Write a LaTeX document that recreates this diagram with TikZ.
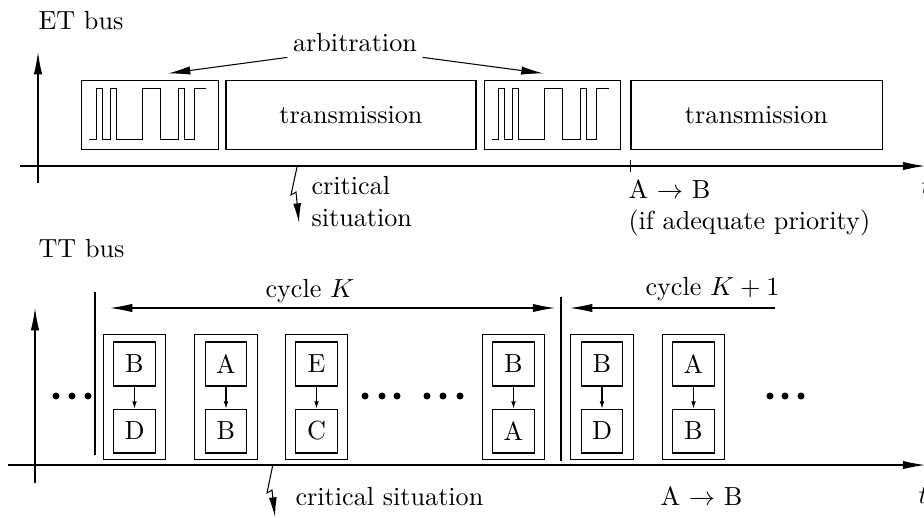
\documentclass[tikz,border=0pt]{standalone}
\usetikzlibrary{arrows.meta, positioning, calc}

\newcommand{\arbsignal}[1]{%
  \draw[shift={(#1.north west)}] (8,59) -- (15,59) -- (15,8) -- (21,8) -- (21,59)
    -- (29,59) -- (29,8) -- (35,8) -- (35,59) -- (61,59) -- (61,8) -- (79,8) -- (79,59)
    -- (97,59) -- (97,8) -- (103,8) -- (103,59) -- (113,59) -- (113,8) -- (125,8);}

\begin{document}
\begin{tikzpicture}[
    x=0.382pt, y=-0.382pt,
    >={Latex[length=8.5pt,width=3.2pt]},
    frame/.style={draw, minimum height=26pt, inner sep=0pt},
    slot/.style={draw, minimum width=24pt, minimum height=47.4pt},
    msg/.style={draw, minimum width=16pt, minimum height=16.8pt, inner sep=0pt},
    msgarrow/.style={-{Latex[length=2.7pt,width=1.8pt]}},
    boltarrow/.style={-{Latex[length=7.5pt,width=3pt]}},
    label/.style={inner sep=0pt, anchor=base west}
]
\useasboundingbox (0,0) rectangle (924,517);

% ET bus
\node[label] (etlabel) at (38,29) {ET bus};
\coordinate (etO) at (38,183);
\coordinate (etY) at (38,52);
\coordinate (etL) at (20,166);
\coordinate (etX) at (925,166);
\draw[->] (etO) -- (etY);
\draw[->] (etL) -- (etX);

\node[frame, minimum width=52pt] (arbA) at (150,115) {};
\node[frame, minimum width=95.5pt] (transA) at (351,115) {transmission};
\node[frame, minimum width=52pt] (arbB) at (552.5,115) {};
\node[frame, minimum width=95.9pt] (transB) at (756.5,115) {transmission};
\arbsignal{arbA}
\arbsignal{arbB}

\node[inner sep=2pt] (arb) at (355,42.4) {arbitration};
\draw[->] (arb.south west) -- ($(arbA.north)+(18,-7)$);
\draw[->] (arb.south east) -- ($(arbB.north)+(-9,-7)$);

\draw (transB.west |- etX) ++(0,-6) -- ++(0,12);
\node[label, align=left, anchor=north west] (etab) at (628,179) {A $\rightarrow$ B\\(if adequate priority)};

\coordinate (etbolt) at (297,167);
\draw[boltarrow] (etbolt) -- ++(-6,28) -- ++(5,-3) -- ++(3,31);
\node[label, align=left, anchor=north west] (etcrit) at (311,176) {critical\\situation};
\node[label] (ett) at (921,194) {$t$};

% TT bus
\node[label] (ttlabel) at (38,257) {TT bus};
\coordinate (ttO) at (35,483);
\coordinate (ttY) at (35,308);
\coordinate (ttL) at (8,465);
\coordinate (ttX) at (925,465);
\draw[->] (ttO) -- (ttY);
\draw[->] (ttL) -- (ttX);

\coordinate (sepA1) at (95,292);
\coordinate (sepA2) at (95,455);
\coordinate (sepB1) at (561,297);
\coordinate (sepB2) at (561,461);
\draw (sepA1) -- (sepA2);
\draw (sepB1) -- (sepB2);

\coordinate (cycA1) at (110,308);
\coordinate (cycA2) at (555,308);
\coordinate (cycB1) at (570,308);
\coordinate (cycB2) at (775,308);
\draw[<->] (cycA1) -- (cycA2);
\draw[<-] (cycB1) -- (cycB2);
\node[label] (cycK) at (265,297) {cycle $K$};
\node[label] (cycK1) at (645,295) {cycle $K+1$};

\foreach \i/\x/\a/\b in {1/134.5/B/D, 2/226/A/B, 3/316.5/E/C, 4/513.5/B/A, 5/602/B/D, 6/693.5/A/B} {
    \node[slot] (slot\i) at (\x,397) {};
    \node[msg] (top\i) at (\x,364) {\a};
    \node[msg] (bot\i) at (\x,431) {\b};
    \draw[msgarrow] (top\i) -- (bot\i);
}

\foreach \x in {56,72,88, 365,382,397, 427,443,460, 770,785,801}
    \fill (\x,396) circle (3.5);

\coordinate (ttbolt) at (273,464);
\draw[boltarrow] (ttbolt) -- ++(-6,29) -- ++(5,-3) -- ++(3,27);
\node[label] (ttcrit) at (295,505) {critical situation};
\node[label] (ttab) at (660,505) {A $\rightarrow$ B};
\node[label] (ttt) at (918,503) {$t$};

\end{tikzpicture}
\end{document}
